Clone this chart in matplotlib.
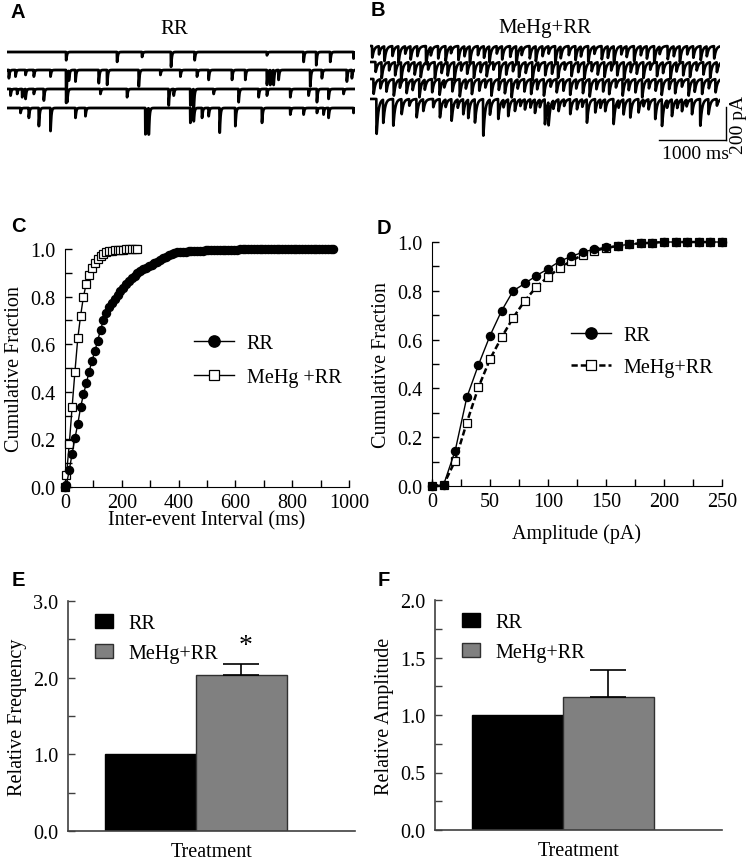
import numpy as np
import matplotlib
matplotlib.use("Agg")
import matplotlib.pyplot as plt
from matplotlib.ticker import MultipleLocator, FormatStrFormatter
from matplotlib.patches import Patch

plt.rcParams['font.family'] = 'Liberation Serif'
plt.rcParams['font.size'] = 14.5

# ---- spontaneous current traces (events: time ms, amplitude pA)
a_rows = [
    ([881, 1642, 2015, 2448, 2801, 3881, 4429, 4618, 4827, 5175],
     [50, 60, 30, 90, 50, 20, 60, 80, 60, 40]),
    ([25, 124, 274, 398, 647, 881, 921, 1020, 1368, 1493, 1966, 2289, 2588, 2836, 3010,
      3359, 3558, 3881, 3931, 3981, 4055, 4528, 4702, 5075, 5150],
     [50, 40, 30, 40, 40, 200, 60, 70, 80, 90, 100, 30, 40, 40, 60,
      60, 60, 90, 90, 90, 60, 100, 50, 70, 50]),
    ([50, 149, 224, 274, 398, 547, 896, 1393, 1791, 2413, 2488, 2737, 2787, 3085, 3458,
      3757, 3881, 4230, 4503, 4628, 4802, 5026],
     [40, 30, 50, 60, 30, 70, 80, 30, 50, 100, 40, 100, 120, 30, 80,
      50, 40, 50, 40, 80, 60, 30]),
    ([199, 323, 473, 647, 1020, 1169, 2065, 2115, 2737, 2787, 2911, 3010, 3175, 3409, 3807,
      4230, 4429, 4628, 4727, 4802, 5175],
     [30, 60, 110, 140, 60, 50, 160, 160, 90, 80, 60, 50, 150, 110, 90,
      40, 40, 30, 40, 60, 30]),
]
a_offsets = [0, -109, -224, -339]

b_rows = [
    ([30, 130, 210, 330, 420, 520, 600, 700, 830, 900, 1010, 1120, 1200, 1310, 1400, 1480,
      1600, 1690, 1770, 1880, 1960, 2080, 2170, 2250, 2370, 2460, 2560, 2650, 2750, 2830,
      2950, 3050, 3130, 3240, 3330, 3440, 3530, 3620, 3730, 3810, 3920, 4020, 4110, 4220,
      4300, 4420, 4510, 4600, 4710, 4800, 4910, 5000, 5110],
     [70, 50, 90, 60, 100, 45, 80, 60, 110, 50, 75, 90, 40, 85, 60, 100, 55, 70, 95, 45,
      80, 65, 110, 50, 75, 90, 60, 45, 100, 70, 55, 85, 60, 95, 45, 80, 70, 105, 50, 65,
      90, 55, 75, 100, 45, 80, 60, 95, 50, 70, 85, 60, 75]),
    ([80, 170, 280, 370, 460, 570, 660, 750, 860, 960, 1060, 1150, 1250, 1350, 1440, 1540,
      1640, 1730, 1830, 1920, 2020, 2120, 2210, 2310, 2410, 2500, 2600, 2700, 2790, 2890,
      2990, 3090, 3180, 3290, 3380, 3480, 3580, 3670, 3770, 3870, 3960, 4060, 4160, 4260,
      4350, 4460, 4550, 4650, 4750, 4850, 4950, 5050, 5150],
     [60, 95, 50, 80, 105, 55, 75, 90, 45, 100, 65, 80, 110, 50, 70, 95, 60, 85, 45, 100,
      75, 55, 90, 65, 110, 50, 80, 70, 95, 45, 85, 60, 100, 55, 75, 90, 50, 80, 105, 60,
      70, 95, 45, 85, 65, 100, 55, 80, 90, 50, 75, 95, 60]),
    ([50, 150, 240, 350, 440, 540, 630, 730, 810, 920, 1030, 1100, 1220, 1330, 1420, 1510,
      1620, 1710, 1800, 1910, 2000, 2100, 2190, 2290, 2390, 2480, 2580, 2680, 2770, 2870,
      2970, 3060, 3160, 3260, 3360, 3460, 3550, 3650, 3750, 3840, 3940, 4040, 4140, 4240,
      4330, 4440, 4530, 4630, 4730, 4820, 4930, 5030, 5130],
     [90, 55, 75, 100, 50, 85, 65, 110, 60, 80, 95, 45, 75, 105, 55, 90, 70, 50, 100, 65,
      85, 110, 55, 75, 90, 60, 100, 45, 80, 70, 95, 55, 85, 105, 60, 75, 90, 50, 100, 65,
      80, 110, 55, 70, 95, 60, 85, 45, 100, 75, 90, 55, 80]),
    ([94, 193, 342, 466, 580, 689, 788, 936, 1035, 1120, 1208, 1300, 1382, 1456, 1555, 1679,
      1778, 1902, 1980, 2050, 2149, 2230, 2298, 2380, 2447, 2520, 2595, 2649, 2720, 2798,
      2880, 2971, 3071, 3150, 3219, 3343, 3420, 3491, 3615, 3690, 3763, 3863, 3986, 4060,
      4135, 4234, 4334, 4410, 4482, 4560, 4631, 4700, 4780, 4903, 5026, 5150],
     [212, 141, 162, 91, 40, 111, 71, 50, 111, 45, 131, 50, 91, 111, 141, 222, 91, 121, 45,
      101, 71, 40, 61, 50, 81, 45, 151, 141, 50, 71, 40, 91, 61, 45, 141, 81, 50, 71, 152,
      45, 91, 111, 81, 40, 61, 121, 162, 45, 101, 50, 71, 40, 91, 162, 91, 40]),
]
b_offsets = [0, -97, -200, -321]

# ---- cumulative distributions
iei_rr_x = [0] + list(range(5, 955, 10))
iei_rr_y = [0.0, 0.01, 0.07, 0.14, 0.205, 0.265, 0.335, 0.39, 0.435, 0.485, 0.53,
            0.57, 0.615, 0.66, 0.70, 0.73, 0.755, 0.775, 0.792, 0.808, 0.824,
            0.838, 0.852, 0.866, 0.877, 0.888, 0.898, 0.907, 0.915, 0.922, 0.928,
            0.934, 0.940, 0.947, 0.954, 0.961, 0.968, 0.975, 0.981, 0.984, 0.986,
            0.987, 0.988, 0.989, 0.990, 0.991, 0.992, 0.992, 0.993, 0.993, 0.994,
            0.994, 0.995, 0.995, 0.995, 0.996, 0.996, 0.996, 0.997, 0.997, 0.997,
            0.997, 0.998, 0.998, 0.998, 0.998, 0.998, 0.999, 0.999, 0.999, 0.999,
            0.999, 0.999, 0.999, 0.999, 1.0, 1.0, 1.0, 1.0, 1.0, 1.0,
            1.0, 1.0, 1.0, 1.0, 1.0, 1.0, 1.0, 1.0, 1.0, 1.0,
            1.0, 1.0, 1.0, 1.0, 1.0]
iei_me_x = [0, 5, 15, 25, 35, 45, 55, 65, 75, 85, 95, 105, 115, 125, 135, 145,
            155, 165, 175, 185, 195, 205, 215, 225, 235, 245, 255]
iei_me_y = [0.0, 0.05, 0.18, 0.335, 0.485, 0.625, 0.72, 0.80, 0.855, 0.89, 0.92,
            0.94, 0.957, 0.97, 0.98, 0.986, 0.99, 0.992, 0.994, 0.995, 0.996,
            0.997, 0.998, 0.998, 0.999, 1.0, 1.0]

amp_x = list(range(0, 260, 10))
amp_rr = [0.0, 0.005, 0.145, 0.363, 0.496, 0.616, 0.718, 0.80, 0.83, 0.862, 0.89,
          0.921, 0.941, 0.958, 0.971, 0.978, 0.985, 0.99, 0.995, 0.997, 1.0,
          1.0, 1.0, 1.0, 1.0, 1.0]
amp_me = [0.0, 0.005, 0.104, 0.26, 0.404, 0.52, 0.609, 0.69, 0.759, 0.816, 0.857,
          0.893, 0.923, 0.947, 0.964, 0.975, 0.984, 0.99, 0.995, 0.997, 1.0,
          1.0, 1.0, 1.0, 1.0, 1.0]

# ---- summary bars
groups = ['RR', 'MeHg+RR']
freq_mean = [1.0, 2.03]
freq_err = [0.0, 0.15]
ampl_mean = [1.0, 1.16]
ampl_err = [0.0, 0.23]

W, H = 751, 862
fig = plt.figure(figsize=(W / 100, H / 100), dpi=100)


def px_axes(x0, y0, x1, y1):
    return fig.add_axes([x0 / W, 1 - y1 / H, (x1 - x0) / W, (y1 - y0) / H])


def make_trace(times, amps, offset, t, tau_d):
    y = np.full_like(t, float(offset))
    tau_r = 1.5
    tp = tau_r * tau_d / (tau_d - tau_r) * np.log(tau_d / tau_r)
    peak = np.exp(-tp / tau_d) - np.exp(-tp / tau_r)
    for t0, a in zip(times, amps):
        dt = t - t0
        m = dt >= 0
        y[m] -= a * (np.exp(-dt[m] / tau_d) - np.exp(-dt[m] / tau_r)) / peak
    return y


t = np.arange(0, 5200, 1.0)

# A
axA = px_axes(7, 35, 355, 145)
for (tm, am), off in zip(a_rows, a_offsets):
    axA.plot(t, make_trace(tm, am, off, t, 10.0), color='black', lw=2.0)
axA.set_xlim(0, 5200)
axA.set_ylim(-557, 109)
axA.axis('off')
fig.text(174 / W, 1 - 30 / H, 'RR', ha='center', va='center', fontsize=15)

# B
axB = px_axes(370, 30, 720, 145)
for (tm, am), off in zip(b_rows, b_offsets):
    axB.plot(t, make_trace(tm, am, off, t, 25.0), color='black', lw=1.9)
axB.set_xlim(0, 5200)
axB.set_ylim(-594, 103)
axB.axis('off')
axB.plot([4290, 5290], [-570, -570], color='black', lw=1, clip_on=False)
axB.plot([5290, 5290], [-570, -370], color='black', lw=1, clip_on=False)
axB.text(4830, -600, '1000 ms', ha='center', va='top', fontsize=14, clip_on=False)
axB.text(5480, -470, '200 pA', ha='center', va='center', rotation=90, fontsize=14,
         clip_on=False)
fig.text(545 / W, 1 - 28 / H, 'MeHg+RR', ha='center', va='center', fontsize=15)


def style_axes(ax):
    for s in ['top', 'right']:
        ax.spines[s].set_visible(False)
    ax.tick_params(which='both', direction='in', length=5, width=1)
    ax.tick_params(axis='y', pad=7)
    ax.tick_params(axis='x', pad=4)


# C
axC = px_axes(65, 250, 349, 488)
axC.plot(iei_me_x, iei_me_y, color='black', lw=1, marker='s', ms=5.2, mfc='white',
         mec='black', mew=0.9, clip_on=False, zorder=3, label='MeHg +RR')
axC.plot(iei_rr_x, iei_rr_y, color='black', lw=1, marker='o', ms=5.8, mfc='black',
         mec='black', clip_on=False, zorder=4, label='RR')
axC.set_xlim(0, 1000)
axC.set_ylim(0, 1.0)
axC.xaxis.set_major_locator(MultipleLocator(200))
axC.xaxis.set_minor_locator(MultipleLocator(100))
axC.yaxis.set_major_locator(MultipleLocator(0.2))
axC.yaxis.set_minor_locator(MultipleLocator(0.1))
axC.yaxis.set_major_formatter(FormatStrFormatter('%.1f'))
style_axes(axC)
axC.set_xlabel('Inter-event Interval (ms)', fontsize=14.5, labelpad=-1)
axC.set_ylabel('Cumulative Fraction', fontsize=14.5, labelpad=4)
h, l = axC.get_legend_handles_labels()
axC.legend(h[::-1], l[::-1], loc='upper left', bbox_to_anchor=(0.455, 0.643),
           frameon=False, borderpad=0, borderaxespad=0, handlelength=2.0,
           handletextpad=0.6, labelspacing=0.72, numpoints=1, markerscale=1.4,
           fontsize=14.5)

# D
axD = px_axes(432, 243, 722, 487)
axD.plot(amp_x, amp_me, color='black', lw=1.8, ls=(0, (2.5, 1.2)), marker='s', ms=5.2,
         mfc='white', mec='black', mew=0.9, clip_on=False, zorder=3, label='MeHg+RR')
axD.plot(amp_x, amp_rr, color='black', lw=1, marker='o', ms=5.8, mfc='black',
         mec='black', clip_on=False, zorder=4, label='RR')
axD.set_xlim(0, 250)
axD.set_ylim(0, 1.0)
axD.xaxis.set_major_locator(MultipleLocator(50))
axD.xaxis.set_minor_locator(MultipleLocator(25))
axD.yaxis.set_major_locator(MultipleLocator(0.2))
axD.yaxis.set_minor_locator(MultipleLocator(0.1))
axD.yaxis.set_major_formatter(FormatStrFormatter('%.1f'))
style_axes(axD)
axD.set_xlabel('Amplitude (pA)', fontsize=14.5, labelpad=9)
axD.set_ylabel('Cumulative Fraction', fontsize=14.5, labelpad=4)
h, l = axD.get_legend_handles_labels()
axD.legend(h[::-1], l[::-1], loc='upper left', bbox_to_anchor=(0.48, 0.655),
           frameon=False, borderpad=0, borderaxespad=0, handlelength=2.0,
           handletextpad=0.6, labelspacing=0.65, numpoints=1, markerscale=1.4,
           fontsize=14.5)

bar_colors = ['black', '#808080']
bar_edges = ['black', '#303030']


def bar_panel(ax, means, errs, ymax, major, minor, ylabel):
    x = np.arange(len(means))
    ax.bar(x, means, width=1.0, color=bar_colors, edgecolor=bar_edges, lw=1, zorder=2)
    ax.errorbar(x[1:], means[1:], yerr=[[0], errs[1:]], fmt='none', ecolor='black',
                elinewidth=1.2, capsize=13, capthick=1.2, zorder=3)
    ax.set_xlim(-0.91, 2.25)
    ax.set_ylim(0, ymax)
    ax.yaxis.set_major_locator(MultipleLocator(major))
    ax.yaxis.set_minor_locator(MultipleLocator(minor))
    ax.yaxis.set_major_formatter(FormatStrFormatter('%.1f'))
    ax.set_xticks([])
    for s in ['top', 'right']:
        ax.spines[s].set_visible(False)
    for s in ['left', 'bottom']:
        ax.spines[s].set_color('#404040')
        ax.spines[s].set_linewidth(1.2)
    ax.tick_params(which='both', direction='in', length=5, width=1, color='#404040')
    ax.tick_params(axis='y', pad=7)
    ax.set_xlabel('Treatment', fontsize=14.5, labelpad=8)
    ax.set_ylabel(ylabel, fontsize=14.5, labelpad=4)
    handles = [Patch(facecolor=c, edgecolor=e, lw=1) for c, e in zip(bar_colors, bar_edges)]
    ax.legend(handles, groups, loc='upper left', bbox_to_anchor=(0.094, 0.945),
              frameon=False, borderpad=0, borderaxespad=0, handlelength=0.9,
              handleheight=0.7, handletextpad=0.75, labelspacing=0.55, fontsize=14.5)


# E
axE = px_axes(68, 602, 355, 832)
bar_panel(axE, freq_mean, freq_err, 3.0, 1.0, 0.5, 'Relative Frequency')
axE.text(1.04, 2.42, '*', ha='center', va='center', fontsize=20)

# F
axF = px_axes(435, 601, 722, 831)
bar_panel(axF, ampl_mean, ampl_err, 2.0, 0.5, 0.25, 'Relative Amplitude')

# panel letters
for lab, x, y in [('A', 18, 12), ('B', 378, 11), ('C', 18, 227), ('D', 384, 228),
                  ('E', 18, 580), ('F', 384, 580)]:
    fig.text(x / W, 1 - y / H, lab, ha='center', va='center', fontsize=14.5,
             fontweight='bold', family='Liberation Sans')

fig.savefig('out.png', dpi=100)
